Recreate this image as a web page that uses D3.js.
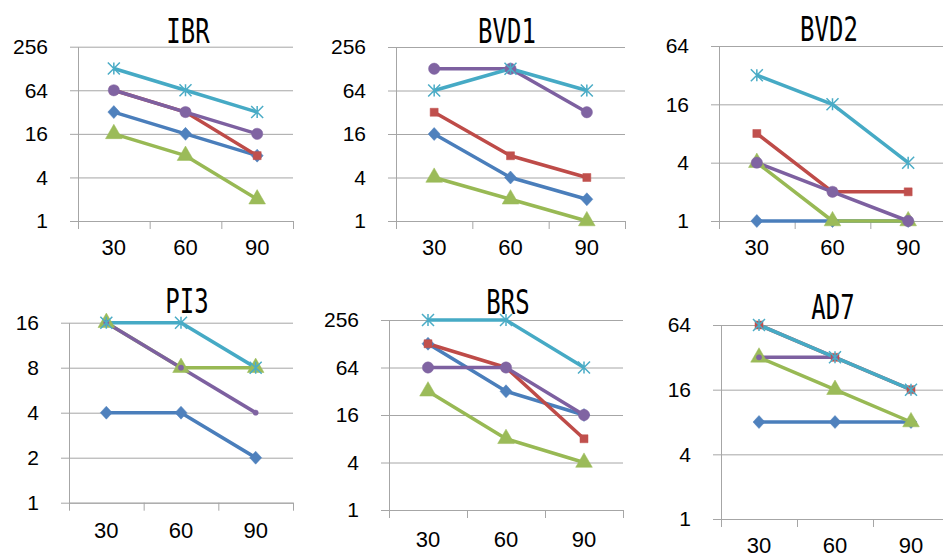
<!DOCTYPE html>
<html>
<head>
<meta charset="utf-8">
<script src="https://cdn.jsdelivr.net/npm/d3@7"></script>
<style>
  body { margin: 0; background: #fff; }
  svg { display: block; }
</style>
</head>
<body>
<svg id="chart" width="943" height="557"></svg>
<script>
// x categories shared by all panels
var categories = ["30", "60", "90"];
var panelTitles = ["IBR", "BVD1", "BVD2", "PI3", "BRS", "AD7"];

// y tick values for each panel (log base 2 axes)
var yTicks = [
    [1, 4, 16, 64, 256],
    [1, 4, 16, 64, 256],
    [1, 4, 16, 64],
    [1, 2, 4, 8, 16],
    [1, 4, 16, 64, 256],
    [1, 4, 16, 64]
];

// series order: blue, red, green, purple, cyan
var ibrValues  = [[32, 16, 8], [64, 32, 8], [16, 8, 2], [64, 32, 16], [128, 64, 32]];
var bvd1Values = [[16, 4, 2], [32, 8, 4], [4, 2, 1], [128, 128, 32], [64, 128, 64]];
var bvd2Values = [[1, 1, 1], [8, 2, 2], [4, 1, 1], [4, 2, 1], [32, 16, 4]];
var pi3Values  = [[4, 4, 2], [null, null, null], [16, 8, 8], [16, 8, 4], [16, 16, 8]];
var brsValues  = [[128, 32, 16], [128, 64, 8], [32, 8, 4], [64, 64, 16], [256, 256, 64]];
var ad7Values  = [[8, 8, 8], [64, 32, 16], [32, 16, 8], [32, 32, null], [64, 32, 16]];

var panelValues = [ibrValues, bvd1Values, bvd2Values, pi3Values, brsValues, ad7Values];

var lineColors = ["#4A7EBB", "#BE4B48", "#98B954", "#7D60A0", "#46AAC5"];
var markerColors = ["#4F81BD", "#C0504D", "#9BBB59", "#8064A2", "#4BACC6"];
var markers = ["diamond", "square", "triangle", "circle", "star"];

// plot boxes
var layout = [
    {x0: 78,  x1: 293, y0: 46.7,  y1: 221,   tx: 188, ty: 43,  xpad: 18, smallCircle: false},
    {x0: 396, x1: 625, y0: 47,    y1: 221,   tx: 507, ty: 43,  xpad: 18, smallCircle: false},
    {x0: 719, x1: 946, y0: 46,    y1: 221,   tx: 829, ty: 41,  xpad: 18, smallCircle: false},
    {x0: 69,  x1: 293, y0: 322.7, y1: 502.7, tx: 187, ty: 313, xpad: 20, smallCircle: true},
    {x0: 389, x1: 623, y0: 320,   y1: 510,   tx: 508, ty: 314, xpad: 21, smallCircle: false},
    {x0: 721, x1: 949, y0: 325,   y1: 519,   tx: 833, ty: 319, xpad: 18, smallCircle: true}
];

var svg = d3.select("#chart");
var gridColor = "#A6A6A6";

function markerPath(type, small) {
    if (type == "star") {
        var s = 6;
        return "M" + (-s) + "," + (-s) + "L" + s + "," + s +
               "M" + (-s) + "," + s + "L" + s + "," + (-s) +
               "M0," + (-s) + "L0," + s;
    }
    if (type == "diamond") {
        return "M0,-6.5L6,0L0,6.5L-6,0Z";
    }
    var sym = {
        square: d3.symbol().type(d3.symbolSquare).size(64),
        triangle: d3.symbol().type(d3.symbolTriangle).size(120),
        circle: d3.symbol().type(d3.symbolCircle).size(small ? 22 : 100)
    };
    return sym[type]();
}

for (var p = 0; p < panelTitles.length; p++) {
    drawPanel(p);
}

function drawPanel(p) {
    var L = layout[p];
    var ticks = yTicks[p];
    var g = svg.append("g");

    var x = d3.scaleBand().domain(categories).range([L.x0, L.x1]);
    var xEdge = d3.scaleLinear().domain([0, categories.length]).range([L.x0, L.x1]);
    var y = d3.scaleLog().base(2)
        .domain([ticks[0], ticks[ticks.length - 1]])
        .range([L.y1, L.y0]);

    // gridlines
    var grid = g.append("g")
        .attr("transform", "translate(" + L.x0 + ",0)")
        .call(d3.axisLeft(y).tickValues(ticks).tickSize(-(L.x1 - L.x0)).tickFormat(""));
    grid.select(".domain").remove();
    grid.selectAll("line").attr("stroke", gridColor);

    // y axis
    var yAxis = g.append("g")
        .attr("transform", "translate(" + L.x0 + ",0)")
        .call(d3.axisLeft(y).tickValues(ticks).tickFormat(d3.format("d"))
            .tickSize(8).tickSizeOuter(0).tickPadding(22));
    yAxis.select(".domain").attr("stroke", gridColor);
    yAxis.selectAll("line").attr("stroke", gridColor);
    yAxis.selectAll("text")
        .attr("fill", "#000")
        .style("font-family", "'Liberation Sans', Arial, sans-serif")
        .style("font-size", "21px");

    // x axis tick marks at category edges
    var xTicks = g.append("g")
        .attr("transform", "translate(0," + L.y1 + ")")
        .call(d3.axisBottom(xEdge).tickValues(d3.range(categories.length + 1))
            .tickSize(8).tickSizeOuter(0).tickFormat(""));
    xTicks.select(".domain").attr("stroke", gridColor);
    xTicks.selectAll("line").attr("stroke", gridColor);

    // x labels
    var xAxis = g.append("g")
        .attr("transform", "translate(0," + L.y1 + ")")
        .call(d3.axisBottom(x).tickSize(0).tickPadding(L.xpad));
    xAxis.select(".domain").remove();
    xAxis.selectAll("text")
        .attr("fill", "#000")
        .style("font-family", "'Liberation Sans', Arial, sans-serif")
        .style("font-size", "22px");

    // title (tall, narrow gothic look)
    g.append("text")
        .attr("transform", "translate(" + L.tx + "," + L.ty + ") scale(1,1.4)")
        .attr("text-anchor", "middle")
        .style("font-family", "'DejaVu Sans Mono', monospace")
        .style("font-size", "24px")
        .text(panelTitles[p]);

    var series = panelValues[p];
    var line = d3.line()
        .defined(function(d) { return d != null; })
        .x(function(d, i) { return x(categories[i]) + x.bandwidth() / 2; })
        .y(function(d) { return y(d); });

    // lines first, then markers (series order)
    series.forEach(function(vals, s) {
        g.append("path")
            .datum(vals)
            .attr("d", line)
            .attr("fill", "none")
            .attr("stroke", lineColors[s])
            .attr("stroke-width", 3.5)
            .attr("stroke-linejoin", "round");
    });

    series.forEach(function(vals, s) {
        var pts = vals.map(function(v, i) { return {v: v, i: i}; })
            .filter(function(d) { return d.v != null; });
        g.selectAll(null)
            .data(pts)
            .enter()
            .append("path")
            .attr("transform", function(d) {
                return "translate(" + (x(categories[d.i]) + x.bandwidth() / 2) + "," + y(d.v) + ")";
            })
            .attr("d", markerPath(markers[s], L.smallCircle))
            .attr("fill", markers[s] == "star" ? "none" : markerColors[s])
            .attr("stroke", markerColors[s])
            .attr("stroke-width", markers[s] == "star" ? 1.5 : 0.5);
    });
}
</script>
</body>
</html>
